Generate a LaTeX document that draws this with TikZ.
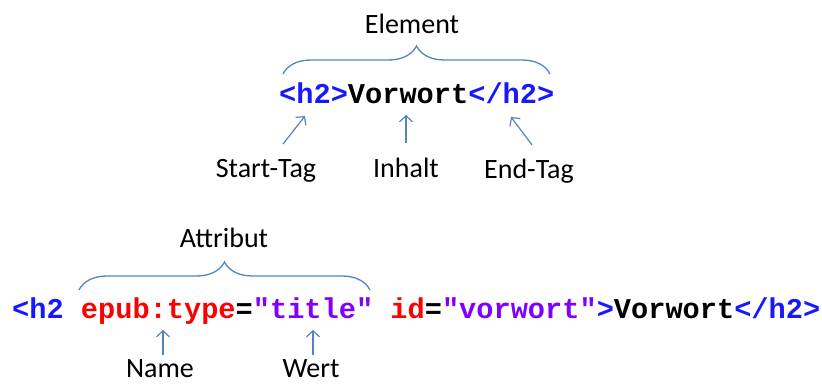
\documentclass[tikz,border=0pt]{standalone}
\usepackage{fontspec}
\setmainfont{Carlito}
\setmonofont{Liberation Mono}
\usepackage{tikz}
\usetikzlibrary{decorations.pathreplacing, arrows.meta}
\definecolor{tagblue}{RGB}{24,24,255}
\definecolor{attrred}{RGB}{255,0,0}
\definecolor{valpurple}{RGB}{128,0,255}
\definecolor{linkblue}{RGB}{84,132,192}

\begin{document}
\begin{tikzpicture}[x=1pt,y=1pt,yscale=-1,xscale=1,
    codetext/.style={anchor=base west,inner sep=0pt,font=\fontsize{28.65}{30}\ttfamily\bfseries},
    tagtext/.style={anchor=base,inner sep=0pt,font=\fontsize{28}{30}\selectfont},
    klammer/.style={draw=linkblue,line width=1.3pt,decorate,decoration={brace,amplitude=28pt}},
    pfeil/.style={draw=linkblue,line width=1.2pt,-{Straight Barb[length=6pt,width=13pt]}}]
    \useasboundingbox (0,0) rectangle (822,383);

    % Text Node
    \node[tagtext] (element) at (412,33) {Element};
    % Text Node
    \node[codetext] (zeile1) at (279,103) {\textcolor{tagblue}{<h2>}Vorwort\textcolor{tagblue}{</h2>}};
    % Text Node
    \node[tagtext] (starttag) at (266,177) {Start-Tag};
    % Text Node
    \node[tagtext] (inhalt) at (406,177) {Inhalt};
    % Text Node
    \node[tagtext] (endtag) at (529,178) {End-Tag};

    % Text Node
    \node[tagtext] (attribut) at (224,247) {Attribut};
    % Text Node
    \node[codetext] (zeile2) at (12,318) {\textcolor{tagblue}{<h2 }\textcolor{attrred}{epub:type}=\textcolor{valpurple}{"title"} \textcolor{attrred}{id}=\textcolor{valpurple}{"vorwort"}\textcolor{tagblue}{>}Vorwort\textcolor{tagblue}{</h2>}};
    % Text Node
    \node[tagtext] (name) at (160,377) {Name};
    % Text Node
    \node[tagtext] (wert) at (311,377) {Wert};

    %Brace ends and arrow ends
    \coordinate (element_l) at (283,74);
    \coordinate (element_r) at (550,74);
    \coordinate (attribut_l) at (79,290);
    \coordinate (attribut_r) at (370,290);
    \coordinate (starttag_fuss) at (283,144);
    \coordinate (starttag_ziel) at (305,116);
    \coordinate (inhalt_fuss) at (406,143);
    \coordinate (inhalt_ziel) at (406,115);
    \coordinate (endtag_fuss) at (532,145);
    \coordinate (endtag_ziel) at (511,117);
    \coordinate (name_fuss) at (163,355);
    \coordinate (name_ziel) at (163,330);
    \coordinate (wert_fuss) at (313,355);
    \coordinate (wert_ziel) at (313,330);

    %Shape: Brace
    \draw[klammer] (element_l) -- (element_r);
    %Shape: Brace
    \draw[klammer] (attribut_l) -- (attribut_r);

    %Straight Lines
    \draw[pfeil] (starttag_fuss) -- (starttag_ziel);
    %Straight Lines
    \draw[pfeil] (inhalt_fuss) -- (inhalt_ziel);
    %Straight Lines
    \draw[pfeil] (endtag_fuss) -- (endtag_ziel);
    %Straight Lines
    \draw[pfeil] (name_fuss) -- (name_ziel);
    %Straight Lines
    \draw[pfeil] (wert_fuss) -- (wert_ziel);

\end{tikzpicture}
\end{document}
